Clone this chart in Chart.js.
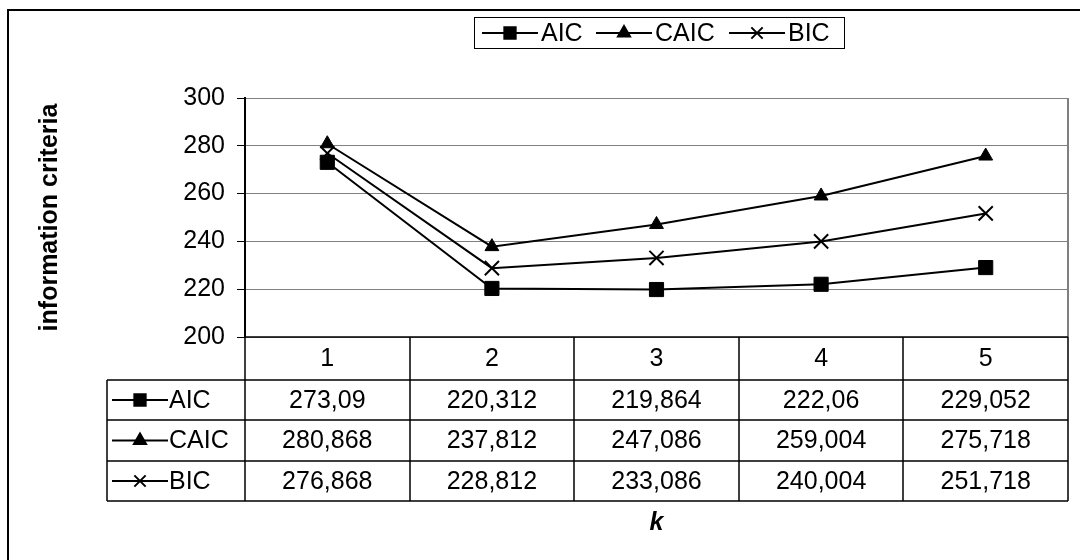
<!DOCTYPE html>
<html>
<head>
<meta charset="utf-8">
<script src="https://cdn.jsdelivr.net/npm/chart.js@4.4.1/dist/chart.umd.min.js"></script>
<style>
  html, body { margin: 0; padding: 0; background: #fff; }
</style>
</head>
<body>
<canvas id="chart" width="1080" height="560"></canvas>
<script>
// ---- data ----
const categories = ['1', '2', '3', '4', '5'];
const seriesNames = ['AIC', 'CAIC', 'BIC'];
const aicValues  = [273.09, 220.312, 219.864, 222.06, 229.052];
const caicValues = [280.868, 237.812, 247.086, 259.004, 275.718];
const bicValues  = [276.868, 228.812, 233.086, 240.004, 251.718];
const yMin = 200, yMax = 300, yStep = 20;
const yTitle = 'information criteria';
const xTitle = 'k';

const FONT = '"Liberation Sans", Arial, sans-serif';
const FS = 25;
const styles = ['rect', 'triangle', 'crossRot'];
const chartRadius = [10, 8, 10];
const keyRadius = [8, 7, 8];

function fmt(v){ return String(v).replace('.', ','); }

function drawKey(ctx, i, x, y){
  ctx.strokeStyle = '#000';
  ctx.fillStyle = '#000';
  ctx.lineWidth = 2;
  ctx.beginPath();
  ctx.moveTo(x - 28, y);
  ctx.lineTo(x + 28, y);
  ctx.stroke();
  Chart.helpers.drawPoint(ctx, {pointStyle: styles[i], radius: keyRadius[i], rotation: 0, borderWidth: i == 2 ? 2 : 1}, x, y);
}

// ---- extra drawing: frame, legend, titles, data table ----
const extras = {
  id: 'extras',
  afterDraw(chart){
    const ctx = chart.ctx, area = chart.chartArea, xs = chart.scales.x;
    const colW = (area.right - area.left) / categories.length;
    const rows = [area.bottom, 380, 420, 461, 501];
    const tableLeft = 107;
    const values = [aicValues, caicValues, bicValues];
    ctx.save();

    // outer frame (right and bottom edges fall outside the picture)
    ctx.strokeStyle = '#000';
    ctx.lineWidth = 2;
    ctx.strokeRect(8, 10, 1100, 600);

    // plot area right border
    ctx.strokeStyle = '#808080';
    ctx.lineWidth = 2;
    ctx.beginPath();
    ctx.moveTo(area.right, area.top);
    ctx.lineTo(area.right, area.bottom);
    ctx.stroke();

    // table grid
    ctx.strokeStyle = '#000';
    ctx.lineWidth = 1.5;
    ctx.beginPath();
    for (let i = 0; i <= categories.length; i++){
      const x = Math.round(area.left + i * colW);
      ctx.moveTo(x, rows[0]); ctx.lineTo(x, rows[4]);
    }
    ctx.moveTo(area.left, rows[0]); ctx.lineTo(area.right, rows[0]);
    for (let r = 1; r < rows.length; r++){
      ctx.moveTo(tableLeft, rows[r]); ctx.lineTo(area.right, rows[r]);
    }
    ctx.moveTo(tableLeft, rows[1]); ctx.lineTo(tableLeft, rows[4]);
    ctx.stroke();

    // table text
    ctx.fillStyle = '#000';
    ctx.font = FS + 'px ' + FONT;
    ctx.textAlign = 'center';
    ctx.textBaseline = 'middle';
    categories.forEach((c, i) => {
      const x = xs.getPixelForValue(i);
      ctx.fillText(c, x, (rows[0] + rows[1]) / 2 + 1);
      values.forEach((vals, s) => {
        ctx.fillText(fmt(vals[i]), x, (rows[s + 1] + rows[s + 2]) / 2 + 1);
      });
    });
    seriesNames.forEach((name, s) => {
      const y = (rows[s + 1] + rows[s + 2]) / 2;
      drawKey(ctx, s, 140, y);
      ctx.fillStyle = '#000';
      ctx.font = FS + 'px ' + FONT;
      ctx.textAlign = 'left';
      ctx.fillText(name, 169, y + 1);
    });

    // legend
    ctx.strokeStyle = '#000';
    ctx.lineWidth = 1;
    ctx.strokeRect(474.5, 17.5, 370, 31);
    const legX = [510, 624, 757];
    seriesNames.forEach((name, s) => {
      drawKey(ctx, s, legX[s], 33);
      ctx.fillStyle = '#000';
      ctx.font = FS + 'px ' + FONT;
      ctx.textAlign = 'left';
      ctx.fillText(name, legX[s] + 31, 34);
    });

    // axis titles
    ctx.font = 'bold ' + FS + 'px ' + FONT;
    ctx.textAlign = 'center';
    ctx.save();
    ctx.translate(50, (area.top + area.bottom) / 2);
    ctx.rotate(-Math.PI / 2);
    ctx.fillText(yTitle, 0, 0);
    ctx.restore();
    ctx.font = 'bold italic ' + FS + 'px ' + FONT;
    ctx.fillText(xTitle, (area.left + area.right) / 2, 523);

    ctx.restore();
  }
};

function makeSet(label, data, i){
  return {
    label: label,
    data: data,
    borderColor: '#000',
    backgroundColor: '#000',
    borderWidth: 2,
    pointStyle: styles[i],
    pointRadius: chartRadius[i],
    pointBorderWidth: i == 2 ? 2 : 1,
    pointBorderColor: '#000',
    pointBackgroundColor: '#000',
    tension: 0
  };
}

new Chart(document.getElementById('chart').getContext('2d'), {
  type: 'line',
  data: {
    labels: categories,
    datasets: [
      makeSet(seriesNames[0], aicValues, 0),
      makeSet(seriesNames[1], caicValues, 1),
      makeSet(seriesNames[2], bicValues, 2)
    ]
  },
  options: {
    responsive: false,
    animation: false,
    devicePixelRatio: 1,
    layout: { padding: { left: 0, top: 98, right: 8, bottom: 223 } },
    plugins: { legend: { display: false }, tooltip: { enabled: false } },
    scales: {
      x: { type: 'category', offset: true, display: false },
      y: {
        min: yMin, max: yMax,
        afterFit(scale){ scale.width = 245; },
        ticks: { stepSize: yStep, color: '#000', padding: 12, font: { family: FONT, size: FS } },
        grid: { color: '#808080', tickColor: '#000', tickLength: 8, lineWidth: 1 },
        border: { color: '#000', width: 2 }
      }
    }
  },
  plugins: [extras]
});
</script>
</body>
</html>
